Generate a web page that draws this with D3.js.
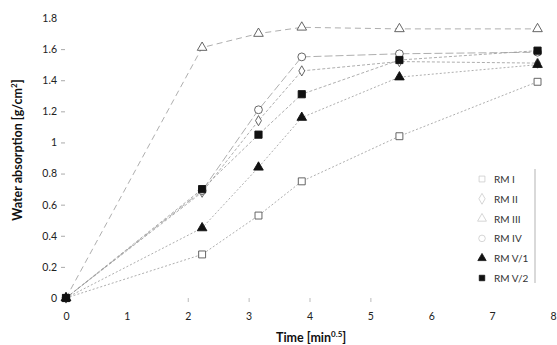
<!DOCTYPE html>
<html>
<head>
<meta charset="utf-8">
<script src="https://cdn.jsdelivr.net/npm/d3@7"></script>
<style>
  body { margin: 0; background: #fff; }
  svg { display: block; font-family: Lato, "Open Sans", sans-serif; }
</style>
</head>
<body>
<svg id="chart" width="557" height="345"></svg>
<script>
// times (sqrt of minutes)
const times = [0, 2.236, 3.162, 3.873, 5.477, 7.746];

const rm1  = [0, 0.28, 0.53, 0.75, 1.04, 1.39];
const rm2  = [0, 0.68, 1.14, 1.46, 1.52, 1.51];
const rm3  = [0, 1.61, 1.70, 1.74, 1.73, 1.73];
const rm4  = [0, 0.69, 1.21, 1.55, 1.57, 1.58];
const rm51 = [0, 0.45, 0.84, 1.16, 1.42, 1.50];
const rm52 = [0, 0.70, 1.05, 1.31, 1.53, 1.59];

const seriesNames = ["RM I", "RM II", "RM III", "RM IV", "RM V/1", "RM V/2"];
const xTicks = [0, 1, 2, 3, 4, 5, 6, 7, 8];
const yTicks = [0, 0.2, 0.4, 0.6, 0.8, 1, 1.2, 1.4, 1.6, 1.8];

// per-series drawing style
const styles = [
  { sym: d3.symbolSquare,   fill: "#fff",  dash: "2,2", size: 48 },
  { sym: d3.symbolDiamond,  fill: "#fff",  dash: "3,2", size: 30 },
  { sym: d3.symbolTriangle, fill: "#fff",  dash: "6,4", size: 40 },
  { sym: d3.symbolCircle,   fill: "#fff",  dash: "8,3", size: 48 },
  { sym: d3.symbolTriangle, fill: "#111",  dash: "2,2", size: 40 },
  { sym: d3.symbolSquare,   fill: "#111",  dash: "3,2", size: 52 }
];
const allValues = [rm1, rm2, rm3, rm4, rm51, rm52];

const svg = d3.select("#chart");
const x = d3.scaleLinear().domain([0, 8]).range([66, 553]);
const y = d3.scaleLinear().domain([0, 1.8]).range([298, 18]);

// y axis: labels + short tick dashes, no domain line
const yAxis = svg.append("g").attr("transform", "translate(66,0)")
  .call(d3.axisLeft(y).tickValues(yTicks).tickSize(4).tickPadding(5)
    .tickFormat(d => d3.format("~g")(d)));
yAxis.select(".domain").remove();
yAxis.selectAll(".tick line").attr("stroke", "#aaa").attr("transform", "translate(-1,0)")
  .filter(d => d === 0 || d === 1.8).remove();
yAxis.selectAll("text").attr("fill", "#222").style("font-size", "10.5px").style("font-family", "Lato, sans-serif");

// x axis
const xAxis = svg.append("g").attr("transform", "translate(0,298)")
  .call(d3.axisBottom(x).tickValues(xTicks).tickSize(4).tickPadding(11));
xAxis.select(".domain").remove();
xAxis.selectAll(".tick line").attr("stroke", "#bbb")
  .filter(d => !(d >= 2 && d <= 5)).remove();
xAxis.selectAll("text").attr("fill", "#222").style("font-size", "10.5px").style("font-family", "Lato, sans-serif");

// lines
const line = d3.line().x((d, i) => x(times[i])).y(d => y(d));
allValues.forEach((vals, k) => {
  svg.append("path").datum(vals)
    .attr("d", line)
    .attr("fill", "none")
    .attr("stroke", "#999")
    .attr("stroke-width", 0.8)
    .attr("stroke-dasharray", styles[k].dash);
});

// markers
allValues.forEach((vals, k) => {
  const st = styles[k];
  svg.append("g").selectAll("path").data(vals).join("path")
    .attr("transform", (d, i) => `translate(${x(times[i])},${y(d)})`)
    .attr("d", d3.symbol().type(st.sym).size(st.size))
    .attr("fill", st.fill)
    .attr("stroke", st.fill === "#fff" ? "#555" : "#111")
    .attr("stroke-width", 0.9);
});

// legend
const legend = svg.append("g");
seriesNames.forEach((name, k) => {
  const st = styles[k];
  const ly = 179 + k * 19.8;
  const open = st.fill === "#fff";
  legend.append("path")
    .attr("transform", `translate(482,${ly})`)
    .attr("d", d3.symbol().type(st.sym).size(open ? 34 : 30))
    .attr("fill", open ? "#fff" : "#111")
    .attr("stroke", open ? "#ccc" : "#111")
    .attr("stroke-width", 0.8);
  legend.append("text")
    .attr("x", 494).attr("y", ly + 4)
    .attr("fill", "#333")
    .style("font-size", "10px")
    .text(name);
});
legend.append("line")
  .attr("x1", 535).attr("x2", 535).attr("y1", 169).attr("y2", 283)
  .attr("stroke", "#ccc").attr("stroke-width", 1.5);

// axis titles
svg.append("text")
  .attr("transform", "translate(22,150) rotate(-90)")
  .attr("text-anchor", "middle")
  .style("font-size", "12.5px").style("font-weight", "bold").attr("fill", "#111")
  .html('Water absorption [g/cm<tspan dy="-5" font-size="8px">2</tspan><tspan dy="5">]</tspan>');

svg.append("text")
  .attr("x", 276).attr("y", 342)
  .style("font-size", "12.5px").style("font-weight", "bold").attr("fill", "#111")
  .html('Time [min<tspan dy="-5" font-size="8px">0.5</tspan><tspan dy="5">]</tspan>');
</script>
</body>
</html>
